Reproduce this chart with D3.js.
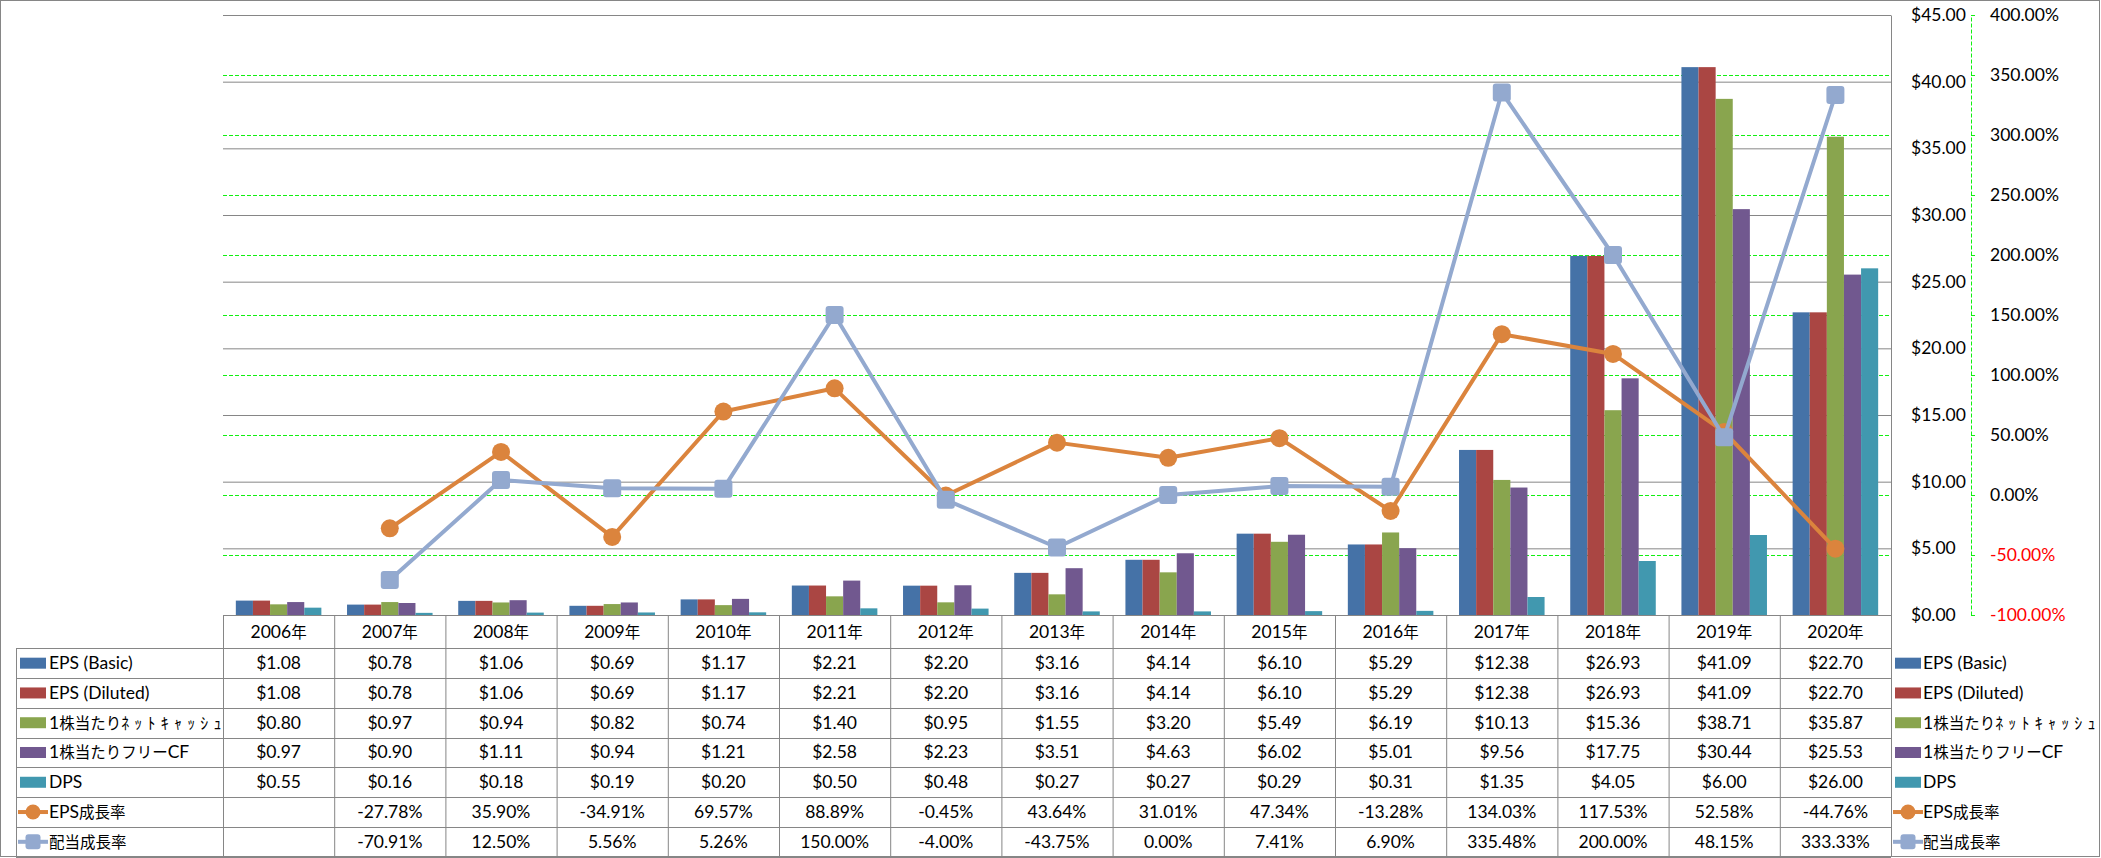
<!DOCTYPE html>
<html lang="ja">
<head>
<meta charset="utf-8">
<title>EPS / DPS</title>
<script src="https://d3js.org/d3.v7.min.js"></script>
<style>
  body { margin: 0; background: #fff; }
  text { font-family: Lato, "Noto Sans CJK JP", sans-serif; font-size: 17.5px; fill: #000; }
</style>
</head>
<body>
<script>
// data
var years = ["2006年", "2007年", "2008年", "2009年", "2010年", "2011年", "2012年", "2013年",
             "2014年", "2015年", "2016年", "2017年", "2018年", "2019年", "2020年"];
var epsBasic   = [1.08, 0.78, 1.06, 0.69, 1.17, 2.21, 2.20, 3.16, 4.14, 6.10, 5.29, 12.38, 26.93, 41.09, 22.70];
var epsDiluted = [1.08, 0.78, 1.06, 0.69, 1.17, 2.21, 2.20, 3.16, 4.14, 6.10, 5.29, 12.38, 26.93, 41.09, 22.70];
var netCashPS  = [0.80, 0.97, 0.94, 0.82, 0.74, 1.40, 0.95, 1.55, 3.20, 5.49, 6.19, 10.13, 15.36, 38.71, 35.87];
var fcfPS      = [0.97, 0.90, 1.11, 0.94, 1.21, 2.58, 2.23, 3.51, 4.63, 6.02, 5.01, 9.56, 17.75, 30.44, 25.53];
var dps        = [0.55, 0.16, 0.18, 0.19, 0.20, 0.50, 0.48, 0.27, 0.27, 0.29, 0.31, 1.35, 4.05, 6.00, 26.00];
var epsGrowth  = [null, -27.78, 35.90, -34.91, 69.57, 88.89, -0.45, 43.64, 31.01, 47.34, -13.28, 134.03, 117.53, 52.58, -44.76];
var divGrowth  = [null, -70.91, 12.50, 5.56, 5.26, 150.00, -4.00, -43.75, 0.00, 7.41, 6.90, 335.48, 200.00, 48.15, 333.33];

var barNames  = ["EPS (Basic)", "EPS (Diluted)", "1株当たりﾈｯﾄｷｬｯｼｭ", "1株当たりフリーCF", "DPS"];
var lineNames = ["EPS成長率", "配当成長率"];
var dollarTicks  = [0, 5, 10, 15, 20, 25, 30, 35, 40, 45];
var percentTicks = [-100, -50, 0, 50, 100, 150, 200, 250, 300, 350, 400];

var barSeries  = [epsBasic, epsDiluted, netCashPS, fcfPS, dps];
var lineSeries = [epsGrowth, divGrowth];
var barColors  = ["#4572A7", "#AA4643", "#89A54E", "#71588F", "#4198AF"];
var lineColors = ["#DB843D", "#93A9CF"];

// layout
var width = 2101, height = 858;
var plot = { left: 223, right: 1891, top: 15, bottom: 615 };
var headerBottom = 648.3, rowH = 29.77, tableLeft = 16;
var gridGray = "#868686";

var svg = d3.select("body").append("svg")
    .attr("width", width)
    .attr("height", height);

svg.append("rect")
    .attr("x", 0.5).attr("y", 0.5)
    .attr("width", width - 2).attr("height", height - 2)
    .attr("fill", "#fff")
    .attr("stroke", gridGray);

var x = d3.scaleBand().domain(years).range([plot.left, plot.right]);
var xs = d3.scaleBand().domain(d3.range(barSeries.length))
    .range([0, x.bandwidth()]).paddingOuter(0.75);
var y = d3.scaleLinear().domain([0, 45]).range([plot.bottom, plot.top]);
var y2 = d3.scaleLinear().domain([-100, 400]).range([plot.bottom, plot.top]);

// mixed latin / japanese text
var cjkRe = /[\u3000-\u9fff\uff00-\uff60\uffa0-\uffef]+|[\uff61-\uff9f]+|[^\u3000-\u9fff\uff00-\uffef]+/g;
function addText(sel, str) {
    (str.match(cjkRe) || []).forEach(function (p) {
        var t = sel.append("tspan").text(p);
        if (/^[\uff61-\uff9f]/.test(p)) {
            t.style("font-size", "16px").style("letter-spacing", "5.2px");
        } else if (/^[\u3000-\u9fff\uff00-\uffef]/.test(p)) {
            t.style("font-size", "15.5px");
        }
    });
    return sel;
}

// gridlines
svg.append("g")
    .attr("transform", "translate(" + plot.left + ",0)")
    .call(d3.axisLeft(y).tickValues(dollarTicks.slice(1))
        .tickSize(-(plot.right - plot.left)).tickFormat(""))
    .call(function (g) { g.select(".domain").remove(); })
    .selectAll("line").attr("stroke", gridGray);

svg.append("g")
    .attr("transform", "translate(" + plot.left + ",0)")
    .call(d3.axisLeft(y2).tickValues(percentTicks.filter(function (d) { return d > -100 && d < 400; }))
        .tickSize(-(plot.right - plot.left)).tickFormat(""))
    .call(function (g) { g.select(".domain").remove(); })
    .selectAll("line")
    .attr("stroke", "#11F011")
    .attr("stroke-dasharray", "4,2");

// bars
barSeries.forEach(function (vals, i) {
    svg.append("g").selectAll("rect")
        .data(vals)
        .enter()
        .append("rect")
        .attr("x", function (d, j) { return x(years[j]) + xs(i); })
        .attr("y", function (d) { return y(d); })
        .attr("width", xs.bandwidth())
        .attr("height", function (d) { return y(0) - y(d); })
        .attr("fill", barColors[i]);
});

// primary axis (right)
var ax1 = svg.append("g")
    .attr("transform", "translate(" + plot.right + ",0)")
    .call(d3.axisRight(y).tickValues(dollarTicks).tickSize(0).tickPadding(20)
        .tickFormat(function (d) { return "$" + d.toFixed(2); }));
ax1.select(".domain").attr("stroke", gridGray);
ax1.selectAll("text").attr("font-size", null).attr("font-family", null);

// secondary axis
var ax2 = svg.append("g")
    .attr("transform", "translate(1971,0)")
    .call(d3.axisRight(y2).tickValues(percentTicks).tickSize(4).tickSizeOuter(0).tickPadding(15)
        .tickFormat(function (d) { return d.toFixed(2) + "%"; }));
ax2.selectAll(".domain, line")
    .attr("stroke", "#11F011")
    .attr("stroke-dasharray", "4,2");
ax2.selectAll("text")
    .attr("font-size", null).attr("font-family", null)
    .style("fill", function (d) { return d < 0 ? "#FF0000" : "#000"; });

// category axis line
svg.append("line")
    .attr("x1", plot.left).attr("x2", plot.right)
    .attr("y1", plot.bottom + 0.5).attr("y2", plot.bottom + 0.5)
    .attr("stroke", gridGray);

// lines
lineSeries.forEach(function (vals, i) {
    var line = d3.line()
        .defined(function (d) { return d != null; })
        .x(function (d, j) { return x(years[j]) + x.bandwidth() / 2; })
        .y(function (d) { return y2(d); });
    svg.append("path")
        .datum(vals)
        .attr("d", line)
        .attr("fill", "none")
        .attr("stroke", lineColors[i])
        .attr("stroke-width", 4)
        .attr("stroke-linejoin", "round");
    var pts = vals.map(function (d, j) { return { v: d, j: j }; })
        .filter(function (p) { return p.v != null; });
    if (i == 0) {
        svg.append("g").selectAll("circle")
            .data(pts).enter().append("circle")
            .attr("cx", function (p) { return x(years[p.j]) + x.bandwidth() / 2; })
            .attr("cy", function (p) { return y2(p.v); })
            .attr("r", 9)
            .attr("fill", lineColors[i]);
    } else {
        svg.append("g").selectAll("rect")
            .data(pts).enter().append("rect")
            .attr("x", function (p) { return x(years[p.j]) + x.bandwidth() / 2 - 9; })
            .attr("y", function (p) { return y2(p.v) - 9; })
            .attr("width", 18).attr("height", 18).attr("rx", 3)
            .attr("fill", lineColors[i]);
    }
});

// data table
var tbl = svg.append("g");
var tableBottom = headerBottom + rowH * 7;
x.domain().forEach(function (yr) {
    tbl.append("line")
        .attr("x1", x(yr) + 0.5).attr("x2", x(yr) + 0.5)
        .attr("y1", plot.bottom).attr("y2", tableBottom)
        .attr("stroke", gridGray);
});
tbl.append("line")
    .attr("x1", plot.right + 0.5).attr("x2", plot.right + 0.5)
    .attr("y1", plot.bottom).attr("y2", tableBottom)
    .attr("stroke", gridGray);
tbl.append("line")
    .attr("x1", tableLeft + 0.5).attr("x2", tableLeft + 0.5)
    .attr("y1", headerBottom).attr("y2", tableBottom)
    .attr("stroke", gridGray);
d3.range(8).forEach(function (k) {
    var yy = Math.round(headerBottom + k * rowH) + 0.5;
    tbl.append("line")
        .attr("x1", tableLeft).attr("x2", plot.right)
        .attr("y1", yy).attr("y2", yy)
        .attr("stroke", gridGray);
});

years.forEach(function (yr) {
    addText(tbl.append("text")
        .attr("x", x(yr) + x.bandwidth() / 2)
        .attr("y", (plot.bottom + headerBottom) / 2 + 6)
        .attr("text-anchor", "middle"), yr);
});

var rows = barSeries.map(function (vals) {
    return vals.map(function (d) { return "$" + d.toFixed(2); });
}).concat(lineSeries.map(function (vals) {
    return vals.map(function (d) { return d == null ? "" : d.toFixed(2) + "%"; });
}));

rows.forEach(function (cells, k) {
    var cy = headerBottom + rowH * (k + 0.5);
    cells.forEach(function (c, j) {
        tbl.append("text")
            .attr("x", x(years[j]) + x.bandwidth() / 2)
            .attr("y", cy + 6)
            .attr("text-anchor", "middle")
            .text(c);
    });
});

// legend keys (table left column and right legend)
var names = barNames.concat(lineNames);
function legendKey(g, k, kx, tx) {
    var cy = headerBottom + rowH * (k + 0.5);
    if (k < barNames.length) {
        g.append("rect")
            .attr("x", kx).attr("y", cy - 5.5)
            .attr("width", 26).attr("height", 11)
            .attr("fill", barColors[k]);
    } else {
        var c = lineColors[k - barNames.length];
        g.append("line")
            .attr("x1", kx - 2).attr("x2", kx + 28)
            .attr("y1", cy).attr("y2", cy)
            .attr("stroke", c).attr("stroke-width", 4);
        if (k == barNames.length) {
            g.append("circle").attr("cx", kx + 13).attr("cy", cy).attr("r", 7.5).attr("fill", c);
        } else {
            g.append("rect").attr("x", kx + 5.5).attr("y", cy - 7.5)
                .attr("width", 15).attr("height", 15).attr("rx", 3).attr("fill", c);
        }
    }
    addText(g.append("text").attr("x", tx).attr("y", cy + 6), names[k]);
}
names.forEach(function (n, k) {
    legendKey(tbl, k, 20, 49);
    legendKey(svg, k, 1895, 1923);
});
</script>
</body>
</html>
